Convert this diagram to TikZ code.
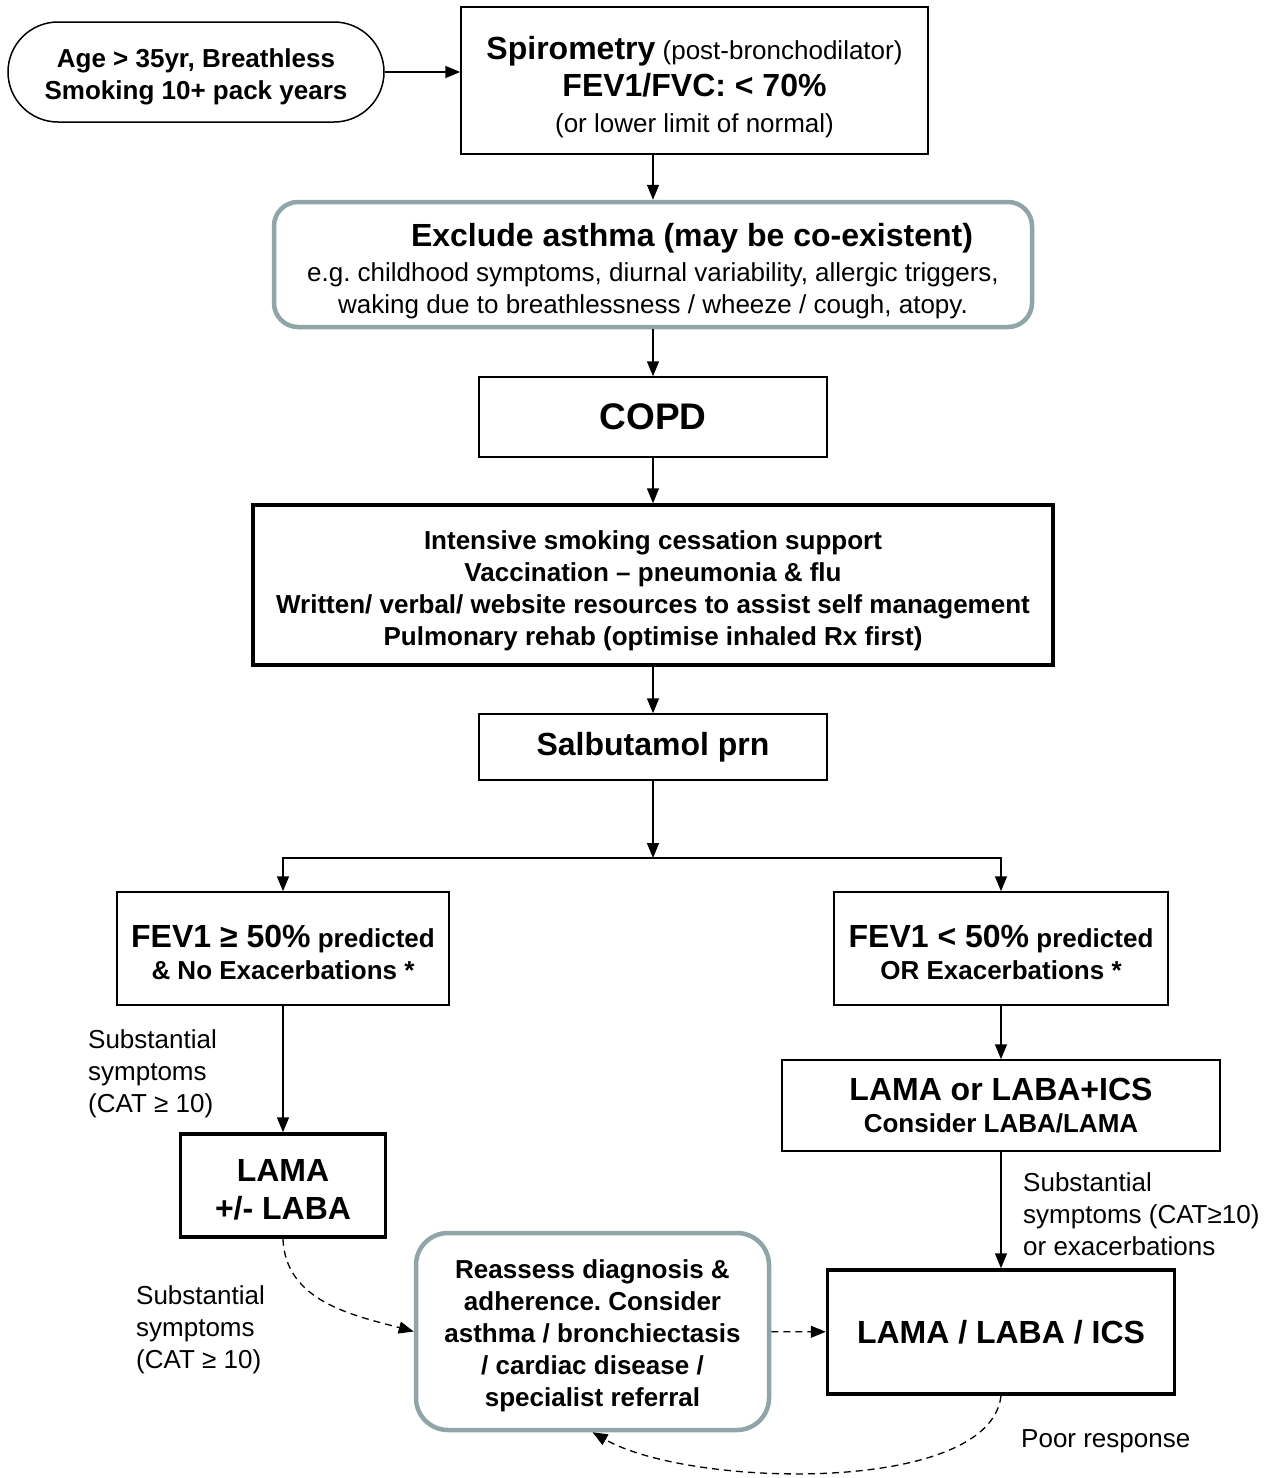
\documentclass[tikz,border=0pt]{standalone}
\usepackage{fontspec}
\setmainfont{Liberation Sans}
\usetikzlibrary{arrows.meta}
\definecolor{tealgrey}{RGB}{143,165,168}
\newcommand{\bigtxt}{\fontsize{32}{37}\selectfont}
\frenchspacing
\begin{document}
\begin{tikzpicture}[x=1pt,y=-1pt,
    every node/.style={font=\fontsize{26}{32}\selectfont, align=center, inner sep=0pt},
    bold/.style={font=\fontsize{26}{32}\selectfont\bfseries},
    box/.style={draw, line width=1.5pt},
    thickbox/.style={draw, line width=3.5pt},
    softbox/.style={draw=tealgrey, line width=4.5pt, rounded corners=24pt},
    note/.style={align=left, anchor=west},
    flow/.style={line width=1.5pt, -{Triangle[length=15pt,width=12pt]}},
    maybe/.style={flow, line width=1.3pt, dash pattern=on 7pt off 5pt}]
  \useasboundingbox (0,0) rectangle (1281,1478);
  \node[box, bold, rounded corners=50pt, minimum width=376pt, minimum height=100pt] (age) at (196,72)
    {\rule{0pt}{28pt}Age > 35yr, Breathless\\Smoking 10+ pack years};
  \node[box, minimum width=467pt, minimum height=147pt] (spiro) at (694.5,80.5)
    {\rule{0pt}{36pt}{\bigtxt\bfseries Spirometry} (post-bronchodilator)\\[5pt]{\bigtxt\bfseries FEV1/FVC: < 70\%}\\[4pt](or lower limit of normal)};
  \node[softbox, minimum width=758pt, minimum height=125pt] (excl) at (653,264.5)
    {\rule{0pt}{36pt}\hspace*{78pt}{\bigtxt\bfseries Exclude asthma (may be co-existent)}\\[3pt]e.g. childhood symptoms, diurnal variability, allergic triggers,\\waking due to breathlessness / wheeze / cough, atopy.};
  \node[box, font=\fontsize{37}{44}\selectfont\bfseries, minimum width=348pt, minimum height=80pt] (copd) at (653,417) {COPD};
  \node[thickbox, bold, minimum width=800pt, minimum height=160pt] (support) at (653,585)
    {\rule{0pt}{30pt}Intensive smoking cessation support\\Vaccination – pneumonia \& flu\\Written/ verbal/ website resources to assist self management\\Pulmonary rehab (optimise inhaled Rx first)};
  \node[box, font=\bigtxt\bfseries, minimum width=348pt, minimum height=66pt] (salb) at (653,747) {Salbutamol prn};
  \coordinate (split) at (653,858);
  \node[box, bold, minimum width=332pt, minimum height=113pt] (left) at (283,948.5)
    {\rule{0pt}{31pt}{\bigtxt FEV1 ≥ 50\%} predicted\\\& No Exacerbations *};
  \node[box, bold, minimum width=334pt, minimum height=113pt] (right) at (1001,948.5)
    {\rule{0pt}{31pt}{\bigtxt FEV1 < 50\%} predicted\\OR Exacerbations *};
  \node[thickbox, font=\fontsize{32}{38}\selectfont\bfseries, minimum width=205pt, minimum height=103pt] (lama) at (283,1185.5)
    {\rule{0pt}{30pt}LAMA\\+/- LABA};
  \node[box, bold, minimum width=438pt, minimum height=91pt] (lamaics) at (1001,1105.5)
    {{\bigtxt LAMA or LABA+ICS}\\Consider LABA/LAMA};
  \node[thickbox, font=\bigtxt\bfseries, minimum width=347pt, minimum height=124pt] (triple) at (1001,1332)
    {LAMA / LABA / ICS};
  \node[softbox, bold, rounded corners=32pt, minimum width=353pt, minimum height=197pt] (reassess) at (592.5,1331.5)
    {\rule{0pt}{28pt}Reassess diagnosis \&\\adherence. Consider\\asthma / bronchiectasis\\/ cardiac disease /\\specialist referral};
  \node[note] (symA) at (88,1074) {Substantial\\symptoms\\(CAT ≥ 10)};
  \node[note] (symB) at (136,1330) {Substantial\\symptoms\\(CAT ≥ 10)};
  \node[note] (symC) at (1023,1214) {Substantial\\symptoms (CAT≥10)\\or exacerbations};
  \node[note] (poor) at (1021,1441) {Poor response};
  \begin{scope}[flow]
    \draw (age.east) to (age.east -| spiro.west);
    \draw (spiro.south -| excl.north) to (excl.north);
    \draw (excl) to (copd);
    \draw (copd) to (support);
    \draw (support) to (salb);
    \draw (salb) to (split);
    \draw (split) -| (left);
    \draw (split) -| (right);
    \draw (left) to (lama);
    \draw (right) to (lamaics);
    \draw (lamaics) to (triple);
  \end{scope}
  \begin{scope}[maybe]
    \draw (lama.south) to[out=-88,in=165] (reassess.west);
    \draw (reassess) to (triple);
    \draw (triple.south) .. controls (990,1495) and (690,1488) .. (reassess.south);
  \end{scope}
\end{tikzpicture}
\end{document}
